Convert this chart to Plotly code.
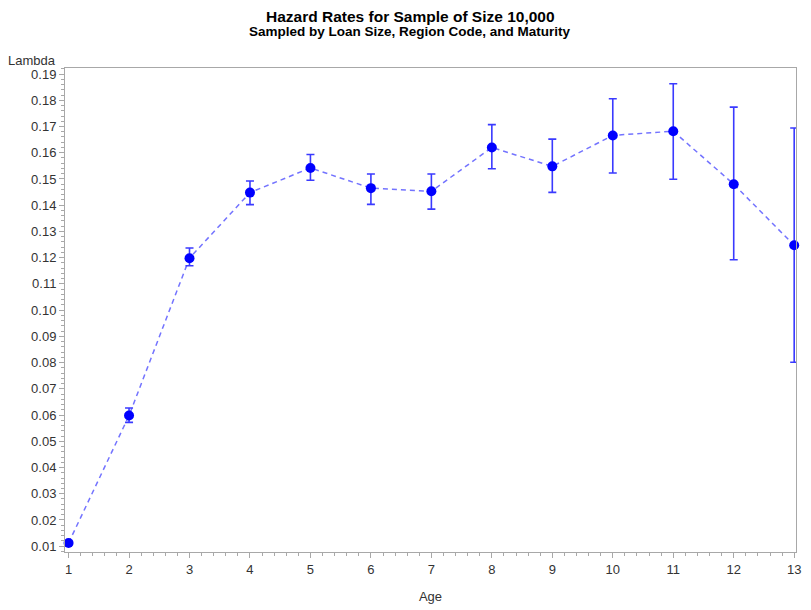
import plotly.graph_objects as go

age = [1, 2, 3, 4, 5, 6, 7, 8, 9, 10, 11, 12, 13]
lam = [0.0112, 0.0598, 0.1198, 0.1448, 0.1542, 0.1465, 0.1453, 0.1620, 0.1548, 0.1666, 0.1682, 0.1480, 0.1247]
lower = [0.0105, 0.0572, 0.1169, 0.1402, 0.1495, 0.1403, 0.1385, 0.1539, 0.1449, 0.1523, 0.1499, 0.1192, 0.0801]
upper = [0.0119, 0.0627, 0.1237, 0.1492, 0.1593, 0.1519, 0.1519, 0.1707, 0.1652, 0.1806, 0.1863, 0.1774, 0.1694]
y_ticks = [round(0.01 * i, 2) for i in range(1, 20)]

err_plus = [u - v for u, v in zip(upper, lam)]
err_minus = [v - l for v, l in zip(lam, lower)]

font_family = "Liberation Sans, Arial, sans-serif"

# page body has an 8px margin, so the figure is sized to fit the visible window
W, H = 795, 602
ML, MR, MT, MB = 57, 7, 60, 58
PW = W - ML - MR


def px_to_paper_x(screen_x):
    return (screen_x - 8 - ML) / PW


fig = go.Figure()
fig.add_trace(go.Scatter(
    x=age, y=lam, mode="lines", line=dict(color="rgba(90,90,255,0.85)", width=1.5, dash="5px,4px"),
    hoverinfo="skip", showlegend=False, cliponaxis=False))
fig.add_trace(go.Scatter(
    x=age, y=lam, mode="markers",
    marker=dict(color="#0000ff", size=10),
    error_y=dict(type="data", symmetric=False, array=err_plus, arrayminus=err_minus,
                 color="#3a3aff", thickness=1.6, width=4),
    showlegend=False, cliponaxis=False))

axis_common = dict(
    showgrid=False, zeroline=False, showline=True, linecolor="#a8a8a8", linewidth=1,
    mirror=True, ticks="outside", ticklen=5, tickcolor="#a8a8a8", automargin=False,
    tickfont=dict(family=font_family, size=13, color="#333333"),
)

fig.update_layout(
    width=W, height=H,
    margin=dict(l=ML, r=MR, t=MT, b=MB),
    paper_bgcolor="white", plot_bgcolor="white",
    font=dict(family=font_family, color="#000000"),
    xaxis=dict(
        range=[0.941, 13.03], tickmode="array", tickvals=age, ticktext=[str(a) for a in age],
        ticklabeloverflow="allow",
        minor=dict(dtick=0.2, ticks="outside", ticklen=3, tickcolor="#a8a8a8"),
        title=dict(text="Age", font=dict(family=font_family, size=13, color="#333333"), standoff=16),
        **axis_common),
    yaxis=dict(
        range=[0.00779, 0.1923], tickmode="array", tickvals=y_ticks,
        ticktext=[f"{v:.2f}" for v in y_ticks],
        minor=dict(dtick=0.002, tick0=0, ticks="outside", ticklen=3, tickcolor="#a8a8a8"),
        **axis_common),
    annotations=[
        dict(text="<b>Hazard Rates for Sample of Size 10,000</b>", xref="paper", yref="paper",
             x=px_to_paper_x(410), y=1.0, xanchor="center", yanchor="middle", yshift=52, showarrow=False,
             borderpad=0, font=dict(family=font_family, size=15.5, color="#000000")),
        dict(text="<b>Sampled by Loan Size, Region Code, and Maturity</b>", xref="paper", yref="paper",
             x=px_to_paper_x(410), y=1.0, xanchor="center", yanchor="middle", yshift=37, showarrow=False,
             borderpad=0, font=dict(family=font_family, size=13.5, color="#000000")),
        dict(text="Lambda", xref="paper", yref="paper", x=0.0, y=1.0,
             xanchor="right", yanchor="middle", xshift=-7, yshift=8, showarrow=False,
             font=dict(family=font_family, size=13, color="#333333")),
    ],
)

fig.write_html("out.html")
